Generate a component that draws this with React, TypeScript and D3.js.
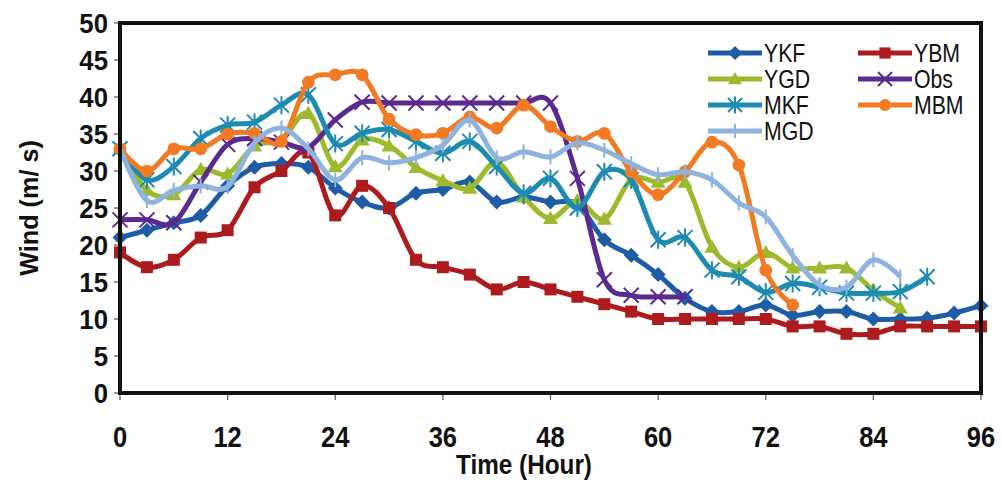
import React, { useEffect, useRef } from "react";
import * as d3 from "d3";

// hours are every 3 h, starting at 0
const ykf = [21, 22, 23, 24, 28, 30.5, 31, 30.5, 27.7, 25.8, 25, 27, 27.5, 28.5, 25.8, 26.5, 25.8, 25.5, 20.7, 18.6, 16, 12.8, 11, 11, 11.9, 10.5, 11, 11, 10, 10, 10.1, 10.8, 11.8];
const ybm = [19, 17, 18, 21, 22, 27.8, 30, 32.5, 24, 28, 25, 18, 17, 16, 14, 15, 14, 13, 12, 11, 10, 10, 10, 10, 10, 9, 9, 8, 8, 9, 9, 9, 9];
const ygd = [33, 27.4, 26.8, 30.2, 29.6, 33.4, 34.2, 37.8, 30.6, 34.2, 33.4, 30.5, 28.7, 27.7, 31.2, 26.5, 23.6, 26, 23.5, 28.8, 28.5, 28.5, 19.7, 17, 19, 16.9, 16.9, 16.9, 13.9, 11.5];
const obs = [23.4, 23.4, 23, 28.5, 33.6, 34.4, 33.9, 33.2, 36.9, 39.3, 39.2, 39.2, 39.2, 39.2, 39.2, 39.2, 39.2, 29, 15.3, 13.2, 13, 13];
const mkf = [33, 28.8, 30.6, 34.4, 36.2, 36.6, 38.9, 40.3, 33.7, 35.1, 35.6, 34, 32.4, 34, 30.6, 27, 29, 25, 29.9, 28.8, 20.7, 21, 16.6, 15.7, 13.6, 14.8, 14.3, 13.5, 13.5, 13.7, 15.7];
const mbm = [33, 30, 33, 33, 35, 35.1, 34, 42, 43, 43, 37, 34.9, 35.1, 37.3, 35.8, 38.9, 36, 34, 35.1, 29.9, 26.8, 29.9, 33.9, 30.8, 16.6, 11.9];
const mgd = [33, 26, 27.4, 28, 27.9, 33.8, 35.8, 33, 28.8, 31.8, 31.1, 31.8, 33.5, 36.9, 31.8, 32.6, 31.9, 33.8, 32.8, 31, 29.5, 29.9, 28.8, 25.7, 23.8, 18.6, 14.6, 14.3, 18, 15.7];

const seriesNames = ["YKF", "YBM", "YGD", "Obs", "MKF", "MBM", "MGD"];
const seriesValues = [ykf, ybm, ygd, obs, mkf, mbm, mgd];
const seriesColours = ["#1f5ca6", "#ad1b1f", "#9cba2c", "#5a2a8f", "#1d8bb0", "#f17a23", "#8fb3df"];
const seriesMarkers = ["diamond", "square", "triangle", "x", "star", "circle", "plus"];

const xTicks = [0, 12, 24, 36, 48, 60, 72, 84, 96];
const yTicks = [0, 5, 10, 15, 20, 25, 30, 35, 40, 45, 50];

const width = 1002;
const height = 484;
const left = 120, right = 981, top = 23, bottom = 393;
const font = "'Liberation Sans', Arial, sans-serif";

// narrow bold text, like Arial Narrow
const narrow = (sel: any, x: number, y: number, txt: string, size: number, anchor: string, rot = 0, sx = 0.8, weight = "bold") => {
    sel.append("text")
        .attr("transform", `translate(${x},${y}) rotate(${rot}) scale(${sx},1)`)
        .attr("text-anchor", anchor)
        .attr("font-family", font).attr("font-weight", weight).attr("font-size", size)
        .attr("fill", "#111")
        .text(txt);
};

const App = () => {
    const ref = useRef<SVGSVGElement>(null);

    useEffect(() => {
        const svg = d3.select(ref.current);
        svg.selectAll("*").remove();

        const x = d3.scaleLinear().domain([0, 96]).range([left, right]);
        const y = d3.scaleLinear().domain([0, 50]).range([bottom, top]);

        // axis ticks
        const g = svg.append("g");
        g.selectAll(".yt").data(yTicks).join("line")
            .attr("x1", left - 6).attr("x2", left)
            .attr("y1", d => y(d)).attr("y2", d => y(d))
            .attr("stroke", "#555").attr("stroke-width", 1.2);
        yTicks.forEach(d => narrow(g, left - 12, y(d) + 10, String(d), 28, "end", 0, 0.92));
        g.selectAll(".xt").data(xTicks).join("line")
            .attr("x1", d => x(d)).attr("x2", d => x(d))
            .attr("y1", bottom).attr("y2", bottom + 7)
            .attr("stroke", "#555").attr("stroke-width", 1.2);
        xTicks.forEach(d => narrow(g, x(d), bottom + 54, String(d), 29, "middle", 0, 0.88));

        narrow(svg, 524, 474, "Time (Hour)", 27, "middle", 0, 0.9);
        narrow(svg, 38, 208, "Wind  (m/ s)", 26, "middle", -90, 0.97);

        const line = d3.line<number>()
            .x((d, i) => x(i * 3))
            .y(d => y(d))
            .curve(d3.curveCatmullRom.alpha(0));

        const drawMarker = (sel: any, kind: string, colour: string, cx: number, cy: number, s: number) => {
            if (kind === "diamond") {
                sel.append("path").attr("d", `M${cx},${cy - s}L${cx + s},${cy}L${cx},${cy + s}L${cx - s},${cy}Z`).attr("fill", colour);
            } else if (kind === "square") {
                sel.append("rect").attr("x", cx - s * 0.8).attr("y", cy - s * 0.8).attr("width", s * 1.6).attr("height", s * 1.6).attr("fill", colour);
            } else if (kind === "triangle") {
                sel.append("path").attr("d", `M${cx},${cy - s}L${cx + s},${cy + s * 0.75}L${cx - s},${cy + s * 0.75}Z`).attr("fill", colour);
            } else if (kind === "circle") {
                sel.append("circle").attr("cx", cx).attr("cy", cy).attr("r", s * 0.85).attr("fill", colour);
            } else if (kind === "x") {
                sel.append("path").attr("d", `M${cx - s},${cy - s}L${cx + s},${cy + s}M${cx - s},${cy + s}L${cx + s},${cy - s}`)
                    .attr("stroke", colour).attr("stroke-width", 2).attr("fill", "none");
            } else if (kind === "star") {
                sel.append("path").attr("d", `M${cx - s},${cy - s}L${cx + s},${cy + s}M${cx - s},${cy + s}L${cx + s},${cy - s}M${cx},${cy - s * 1.2}L${cx},${cy + s * 1.2}`)
                    .attr("stroke", colour).attr("stroke-width", 2).attr("fill", "none");
            } else if (kind === "plus") {
                sel.append("path").attr("d", `M${cx},${cy - s}L${cx},${cy + s}`)
                    .attr("stroke", colour).attr("stroke-width", 2).attr("fill", "none");
            }
        };

        const lines = svg.append("g");
        seriesValues.forEach((vals, k) => {
            const colour = seriesColours[k];
            const sg = lines.append("g");
            sg.append("path")
                .attr("d", line(vals))
                .attr("fill", "none")
                .attr("stroke", colour)
                .attr("stroke-width", 5)
                .attr("stroke-linejoin", "round");
            vals.forEach((v, i) => drawMarker(sg, seriesMarkers[k], colour, x(i * 3), y(v), 7.5));
        });

        // frame
        svg.append("rect")
            .attr("x", left).attr("y", top)
            .attr("width", right - left).attr("height", bottom - top)
            .attr("fill", "none").attr("stroke", "#111").attr("stroke-width", 4);

        // legend
        const leg = svg.append("g");
        seriesNames.forEach((name, k) => {
            const col = k % 2;
            const row = Math.floor(k / 2);
            const x0 = col === 0 ? 708 : 858;
            const y0 = 53 + row * 26;
            const colour = seriesColours[k];
            leg.append("line")
                .attr("x1", x0).attr("x2", x0 + 54).attr("y1", y0).attr("y2", y0)
                .attr("stroke", colour).attr("stroke-width", 5);
            drawMarker(leg, seriesMarkers[k], colour, x0 + 27, y0, 7);
            narrow(leg, x0 + 56, y0 + 9, name, 25, "start", 0, 0.85, "normal");
        });
    }, []);

    return (
        <svg ref={ref} width={width} height={height} viewBox={`0 0 ${width} ${height}`}
             style={{position: "absolute", left: 0, top: 0, background: "#fff"}}/>
    );
};

export default App;
